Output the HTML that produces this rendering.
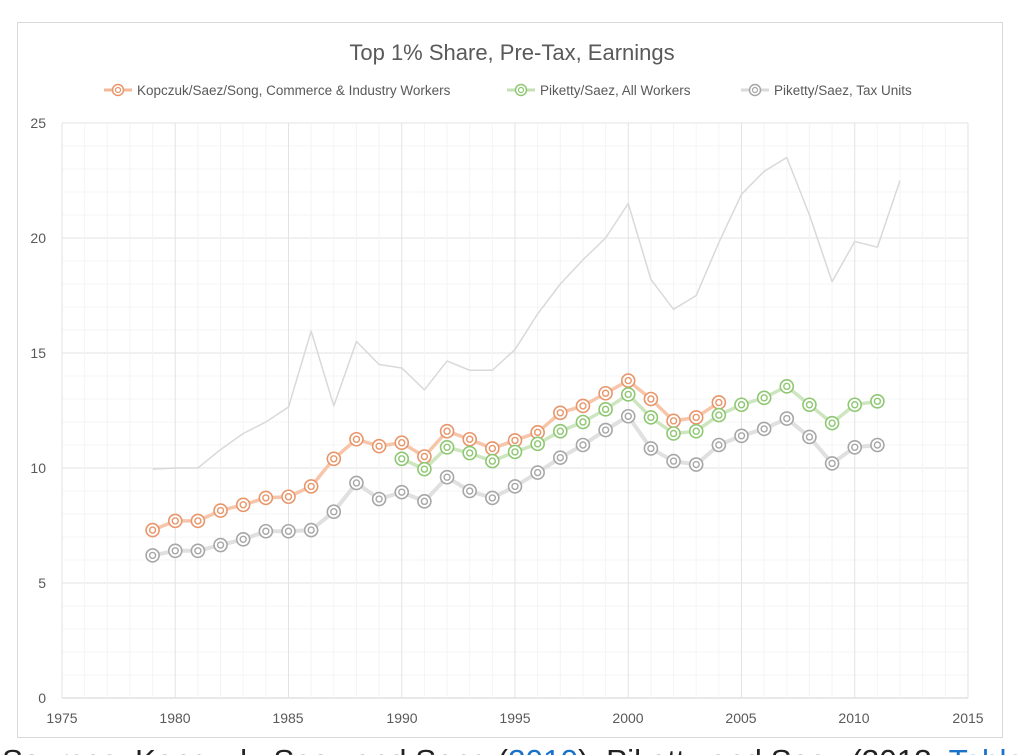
<!DOCTYPE html>
<html><head><meta charset="utf-8"><style>
html,body{margin:0;padding:0;background:#fff;width:1024px;height:755px;overflow:hidden}
svg{display:block;font-family:"Liberation Sans",sans-serif}
</style></head><body>
<svg id="s" width="1024" height="755" viewBox="0 0 1024 755">
<rect x="17.5" y="22.5" width="985" height="715" fill="#fff" stroke="#d9d9d9"/>
<g id="grid"></g>
<text x="512" y="60" text-anchor="middle" font-size="22" fill="#595959">Top 1% Share, Pre-Tax, Earnings</text>
<g font-size="13.5" fill="#595959">
<line x1="104" y1="90" x2="132" y2="90" stroke="#F4B999" stroke-width="3"/><circle cx="118" cy="90" r="5.5" fill="#fff" stroke="#E8956A" stroke-width="1.5"/><circle cx="118" cy="90" r="2.5" fill="none" stroke="#E8956A" stroke-width="1.2"/>
<text x="137" y="95">Kopczuk/Saez/Song, Commerce &amp; Industry Workers</text>
<line x1="507" y1="90" x2="535" y2="90" stroke="#C5E0B4" stroke-width="3"/><circle cx="521" cy="90" r="5.5" fill="#fff" stroke="#8DC770" stroke-width="1.5"/><circle cx="521" cy="90" r="2.5" fill="none" stroke="#8DC770" stroke-width="1.2"/>
<text x="540" y="95">Piketty/Saez, All Workers</text>
<line x1="741" y1="90" x2="769" y2="90" stroke="#DADADA" stroke-width="3"/><circle cx="755" cy="90" r="5.5" fill="#fff" stroke="#A6A6A6" stroke-width="1.5"/><circle cx="755" cy="90" r="2.5" fill="none" stroke="#A6A6A6" stroke-width="1.2"/>
<text x="774" y="95">Piketty/Saez, Tax Units</text>
</g>
<g font-size="14" fill="#595959" text-anchor="end">
<text x="46" y="128">25</text><text x="46" y="243">20</text><text x="46" y="358">15</text><text x="46" y="473">10</text><text x="46" y="588">5</text><text x="46" y="703">0</text>
</g>
<g font-size="14" fill="#595959" text-anchor="middle">
<text x="62" y="723">1975</text><text x="175" y="723">1980</text><text x="288" y="723">1985</text><text x="402" y="723">1990</text><text x="515" y="723">1995</text><text x="628" y="723">2000</text><text x="741" y="723">2005</text><text x="854" y="723">2010</text><text x="968" y="723">2015</text>
</g>
<g id="data"></g>
<text x="2" y="771" font-size="31" fill="#222" textLength="1022" lengthAdjust="spacingAndGlyphs">Sources: Kopczuk, Saez and Song (<tspan fill="#1a73c8">2010</tspan>); Piketty and Saez (2013, <tspan fill="#1a73c8">Table</tspan></text>
</svg>
<script>
var NS="http://www.w3.org/2000/svg";
function el(p,t,a){var e=document.createElementNS(NS,t);for(var k in a)e.setAttribute(k,a[k]);p.appendChild(e);return e;}
var X=function(y){return 62+(y-1975)*22.65},Y=function(v){return 698-23*v};
var g=document.getElementById('grid');
for(var v=0;v<=25;v++){el(g,'line',{x1:62,x2:968,y1:Y(v),y2:Y(v),stroke:v%5==0?(v==0?'#d0d0d0':'#e3e3e3'):'#f4f4f4','stroke-width':1});}
for(var y=1975;y<=2015;y++){el(g,'line',{x1:X(y),x2:X(y),y1:Y(25),y2:Y(0),stroke:y%5==0?'#e3e3e3':'#f4f4f4','stroke-width':1});}
var d=document.getElementById('data');
function line(s,arr,col,w){el(d,'polyline',{points:arr.map(function(v,i){return X(s+i)+','+Y(v)}).join(' '),fill:'none',stroke:col,'stroke-width':w,'stroke-linejoin':'round'});}
function marks(s,arr,col){arr.forEach(function(v,i){el(d,'circle',{cx:X(s+i),cy:Y(v),r:6.5,fill:'#fff',stroke:col,'stroke-width':1.6});el(d,'circle',{cx:X(s+i),cy:Y(v),r:3,fill:'none',stroke:col,'stroke-width':1.4});});}
var thin=[9.95,10.0,10.0,10.8,11.5,12.0,12.65,15.95,12.7,15.5,14.5,14.35,13.4,14.65,14.25,14.25,15.15,16.7,18.0,19.05,20.0,21.5,18.2,16.9,17.5,19.8,21.9,22.9,23.5,21.0,18.1,19.85,19.6,22.5];
var gray=[6.2,6.4,6.4,6.65,6.9,7.25,7.25,7.3,8.1,9.35,8.65,8.95,8.55,9.6,9.0,8.7,9.2,9.8,10.45,11.0,11.65,12.25,10.85,10.3,10.15,11.0,11.4,11.7,12.15,11.35,10.2,10.9,11.0];
var org=[7.3,7.7,7.7,8.15,8.4,8.7,8.75,9.2,10.4,11.25,10.95,11.1,10.5,11.6,11.25,10.85,11.2,11.55,12.4,12.7,13.25,13.8,13.0,12.05,12.2,12.85];
var grn=[10.4,9.95,10.9,10.65,10.3,10.7,11.05,11.6,12.0,12.55,13.2,12.2,11.5,11.6,12.3,12.75,13.05,13.55,12.75,11.95,12.75,12.9];
line(1979,thin,'#d9d9d9',1.5);
line(1979,gray,'#e0e0e0',4);
line(1979,org,'#F7C6AA',3.5);
line(1990,grn,'#CDE6BF',3.5);
marks(1979,gray,'#A6A6A6');
marks(1979,org,'#E8956A');
marks(1990,grn,'#8DC770');
</script>
</body></html>
